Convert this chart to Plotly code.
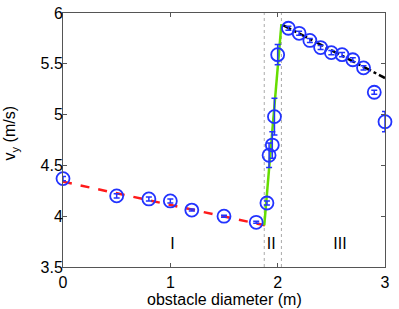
import plotly.graph_objects as go

diam = [0, 0.5, 0.8, 1.0, 1.2, 1.5, 1.8, 1.9, 1.92, 1.95, 1.97, 2.0, 2.1, 2.2, 2.3, 2.4, 2.5, 2.6, 2.7, 2.8, 2.9, 3.0]
vy = [4.37, 4.20, 4.17, 4.15, 4.06, 4.00, 3.94, 4.13, 4.60, 4.70, 4.98, 5.59, 5.85, 5.80, 5.73, 5.66, 5.61, 5.59, 5.54, 5.46, 5.22, 4.93]
vy_err = [0.02, 0.02, 0.02, 0.02, 0.01, 0.01, 0.01, 0.02, 0.12, 0.13, 0.18, 0.10, 0.02, 0.02, 0.02, 0.02, 0.02, 0.02, 0.02, 0.02, 0.02, 0.10]

fit1_x = [0, 1.88]
fit1_y = [4.34, 3.91]
fit2_x = [1.875, 2.035]
fit2_y = [3.91, 5.89]
fit3_x = [2.05, 3.0]
fit3_y = [5.88, 5.36]

bounds = [1.875, 2.035]
regions = ["I", "II", "III"]
region_x = [1.02, 1.94, 2.58]
region_y = [3.72, 3.72, 3.72]

x_title = "obstacle diameter (m)"
y_title = "v<sub>y</sub> (m/s)"

font = "Liberation Sans, Arial, sans-serif"
fig = go.Figure()

for b in bounds:
    fig.add_trace(go.Scatter(x=[b, b], y=[3.5, 6], mode="lines",
                             line=dict(color="#aaaaaa", width=1, dash="dot"),
                             showlegend=False, hoverinfo="skip"))

fig.add_trace(go.Scatter(x=fit1_x, y=fit1_y, mode="lines",
                         line=dict(color="#ff1a1a", width=2.5, dash="dash"), showlegend=False))
fig.add_trace(go.Scatter(x=fit2_x, y=fit2_y, mode="lines",
                         line=dict(color="#66dd00", width=2.5), showlegend=False))
fig.add_trace(go.Scatter(x=fit3_x, y=fit3_y, mode="lines",
                         line=dict(color="black", width=2.5, dash="dashdot"), showlegend=False))

fig.add_trace(go.Scatter(x=diam, y=vy, mode="markers",
                         error_y=dict(type="data", array=vy_err, color="#2233ff", thickness=1.5, width=3),
                         marker=dict(symbol="circle-open", size=13, color="#2233ff", line=dict(width=1.8)),
                         cliponaxis=False, showlegend=False))

fig.add_trace(go.Scatter(x=region_x, y=region_y, mode="text", text=regions,
                         textfont=dict(size=16, family=font, color="black"), showlegend=False))

axis_common = dict(showgrid=False, zeroline=False, showline=True, linecolor="#555555", linewidth=1,
                   mirror="ticks", ticks="inside", ticklen=4, tickcolor="#555555", automargin=False,
                   tickfont=dict(size=16, family=font, color="black"))

fig.update_layout(
    width=399, height=309,
    margin=dict(l=63, r=14, t=13, b=42),
    plot_bgcolor="white", paper_bgcolor="white",
    xaxis=dict(range=[0, 3], tickvals=[0, 1, 2, 3], ticklabelstandoff=1, **axis_common),
    yaxis=dict(range=[3.5, 6], tickvals=[3.5, 4, 4.5, 5, 5.5, 6], ticktext=["3.5", "4", "4.5", "5", "5.5", "6"],
               ticklabelstandoff=-4, **axis_common),
    annotations=[
        dict(text=x_title, xref="paper", yref="paper", x=0.5, y=-0.128, xanchor="center", yanchor="middle",
             showarrow=False, font=dict(size=16, family=font, color="black")),
        dict(text=y_title, xref="paper", yref="paper", x=-0.162, y=0.525, xanchor="center", yanchor="middle",
             textangle=-90, showarrow=False, font=dict(size=16, family=font, color="black")),
    ],
)

fig.write_html("out.html", config={"displayModeBar": False},
               post_script="document.body.style.margin='0';document.body.style.padding='0';")
